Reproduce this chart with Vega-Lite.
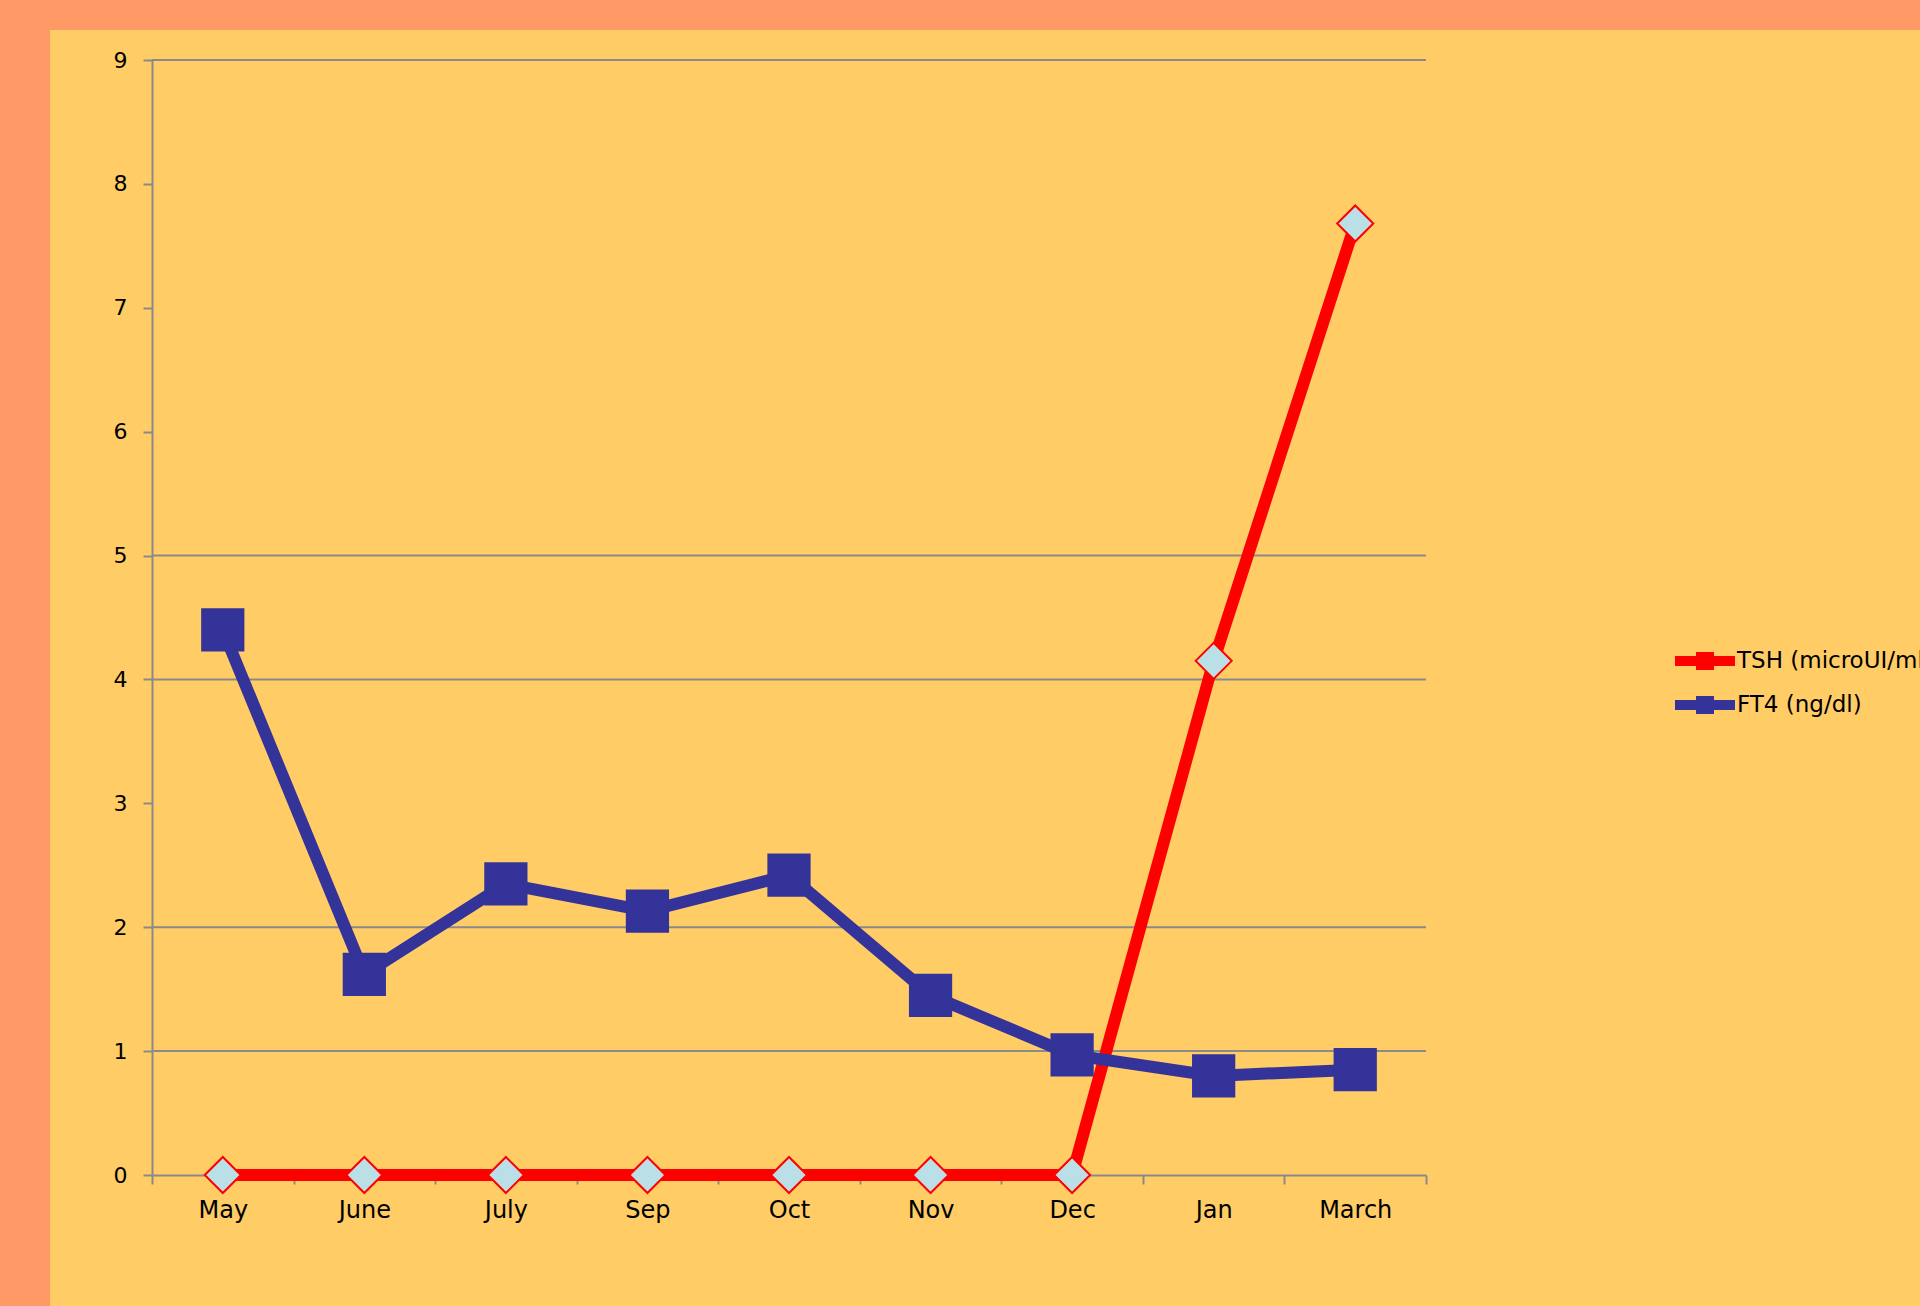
{
  "$schema": "https://vega.github.io/schema/vega-lite/v6.json",
  "width": 1870,
  "height": 1276,
  "autosize": {"type": "none"},
  "padding": {"left": 50, "top": 30, "right": 0, "bottom": 0},
  "background": "#FF9966",
  "config": {
    "view": {"fill": "#FFCC66", "stroke": null},
    "font": "DejaVu Sans"
  },
  "datasets": {
    "readings": [
      {"month": "May", "series": "TSH (microUI/ml)", "value": 0},
      {"month": "June", "series": "TSH (microUI/ml)", "value": 0},
      {"month": "July", "series": "TSH (microUI/ml)", "value": 0},
      {"month": "Sep", "series": "TSH (microUI/ml)", "value": 0},
      {"month": "Oct", "series": "TSH (microUI/ml)", "value": 0},
      {"month": "Nov", "series": "TSH (microUI/ml)", "value": 0},
      {"month": "Dec", "series": "TSH (microUI/ml)", "value": 0},
      {"month": "Jan", "series": "TSH (microUI/ml)", "value": 4.15},
      {"month": "March", "series": "TSH (microUI/ml)", "value": 7.68},
      {"month": "May", "series": "FT4 (ng/dl)", "value": 4.4},
      {"month": "June", "series": "FT4 (ng/dl)", "value": 1.62},
      {"month": "July", "series": "FT4 (ng/dl)", "value": 2.35},
      {"month": "Sep", "series": "FT4 (ng/dl)", "value": 2.13},
      {"month": "Oct", "series": "FT4 (ng/dl)", "value": 2.42},
      {"month": "Nov", "series": "FT4 (ng/dl)", "value": 1.45},
      {"month": "Dec", "series": "FT4 (ng/dl)", "value": 0.97},
      {"month": "Jan", "series": "FT4 (ng/dl)", "value": 0.8},
      {"month": "March", "series": "FT4 (ng/dl)", "value": 0.85}
    ],
    "gridlines": [{"level": 1}, {"level": 2}, {"level": 4}, {"level": 5}, {"level": 9}]
  },
  "layer": [
    {
      "data": {"name": "gridlines"},
      "mark": {"type": "rule", "color": "#8a8a8a", "strokeWidth": 2},
      "encoding": {
        "x": {"datum": 0, "type": "quantitative", "scale": {"domain": [0, 1], "range": [102, 1376]}, "axis": null},
        "x2": {"datum": 1},
        "y": {
          "field": "level",
          "type": "quantitative",
          "scale": {"domain": [0, 9], "range": [1145, 30], "nice": false, "zero": true},
          "axis": {
            "title": null, "offset": -102, "grid": false, "values": [0, 1, 2, 3, 4, 5, 6, 7, 8, 9],
            "domainColor": "#8a8a8a", "domainWidth": 2,
            "tickColor": "#8a8a8a", "tickWidth": 2, "tickSize": 9,
            "labelPadding": 16, "labelFont": "DejaVu Sans", "labelFontSize": 22, "labelColor": "#000000"
          }
        }
      }
    },
    {
      "data": {"name": "readings"},
      "encoding": {
        "x": {
          "field": "month",
          "type": "nominal",
          "sort": ["May", "June", "July", "Sep", "Oct", "Nov", "Dec", "Jan", "March"],
          "scale": {"type": "band", "domain": ["May", "June", "July", "Sep", "Oct", "Nov", "Dec", "Jan", "March"], "range": [102, 1376], "paddingInner": 0, "paddingOuter": 0},
          "axis": {
            "title": null, "orient": "bottom", "offset": -131, "grid": false,
            "domainColor": "#8a8a8a", "domainWidth": 2,
            "tickColor": "#8a8a8a", "tickWidth": 2, "tickSize": 9, "tickBand": "extent",
            "labelPadding": 14, "labelFont": "DejaVu Sans", "labelFontSize": 24, "labelColor": "#000000", "labelAngle": 0
          }
        },
        "y": {
          "field": "value",
          "type": "quantitative",
          "scale": {"domain": [0, 9], "range": [1145, 30], "nice": false, "zero": true},
          "axis": {
            "title": null, "offset": -102, "grid": false, "values": [0, 1, 2, 3, 4, 5, 6, 7, 8, 9],
            "domainColor": "#8a8a8a", "domainWidth": 2,
            "tickColor": "#8a8a8a", "tickWidth": 2, "tickSize": 9,
            "labelPadding": 16, "labelFont": "DejaVu Sans", "labelFontSize": 22, "labelColor": "#000000"
          }
        },
        "stroke": {
          "field": "series",
          "type": "nominal",
          "scale": {"domain": ["TSH (microUI/ml)", "FT4 (ng/dl)"], "range": ["#FF0000", "#333399"]},
          "legend": {
            "title": null, "orient": "none", "legendX": 1620, "legendY": 616,
            "symbolType": "M-1,0H5M1.6,-0.4H2.4V0.4H1.6Z",
            "symbolSize": 400, "symbolStrokeWidth": 10,
            "labelFont": "DejaVu Sans", "labelFontSize": 23, "labelColor": "#000000", "labelOffset": 37, "labelLimit": 500,
            "rowPadding": -4, "padding": 0
          }
        },
        "fill": {
          "field": "series",
          "type": "nominal",
          "scale": {"domain": ["TSH (microUI/ml)", "FT4 (ng/dl)"], "range": ["#BADFE6", "#333399"]},
          "legend": {
            "title": null, "orient": "none", "legendX": 1620, "legendY": 616,
            "symbolType": "M-1,0H5M1.6,-0.4H2.4V0.4H1.6Z",
            "symbolSize": 400, "symbolStrokeWidth": 10,
            "labelFont": "DejaVu Sans", "labelFontSize": 23, "labelColor": "#000000", "labelOffset": 37, "labelLimit": 500,
            "rowPadding": -4, "padding": 0
          }
        }
      },
      "layer": [
        {
          "transform": [{"filter": "datum.series === 'TSH (microUI/ml)'"}],
          "mark": {"type": "line", "strokeWidth": 12},
          "encoding": {"fill": {"value": null}}
        },
        {
          "transform": [{"filter": "datum.series === 'TSH (microUI/ml)'"}],
          "mark": {"type": "point", "shape": "diamond", "size": 1300, "filled": true, "strokeWidth": 2, "opacity": 1}
        },
        {
          "transform": [{"filter": "datum.series === 'FT4 (ng/dl)'"}],
          "mark": {"type": "line", "strokeWidth": 12},
          "encoding": {"fill": {"value": null}}
        },
        {
          "transform": [{"filter": "datum.series === 'FT4 (ng/dl)'"}],
          "mark": {"type": "point", "shape": "square", "size": 1700, "filled": true, "strokeWidth": 2, "opacity": 1}
        }
      ]
    }
  ],
  "resolve": {"scale": {"x": "independent"}}
}
